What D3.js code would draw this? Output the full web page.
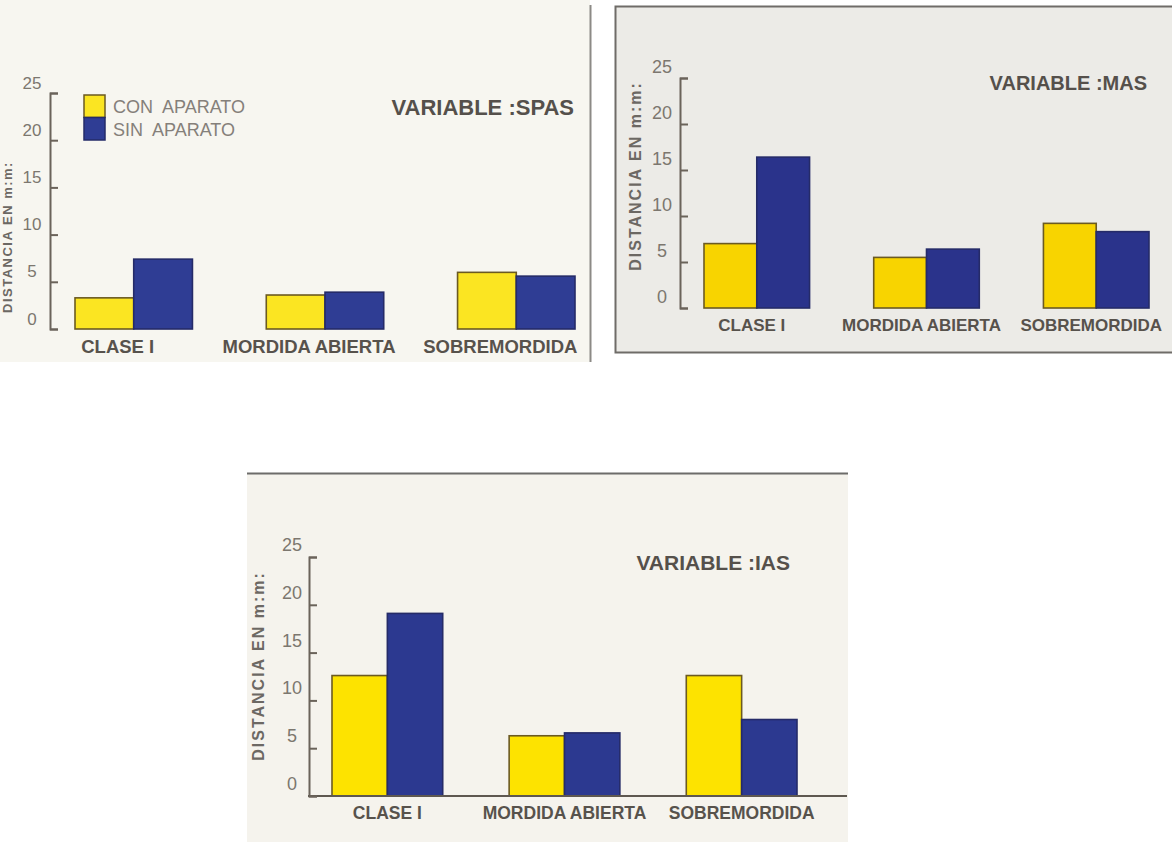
<!DOCTYPE html>
<html>
<head>
<meta charset="utf-8">
<script src="https://cdn.jsdelivr.net/npm/d3@7"></script>
<style>
  html, body { margin: 0; padding: 0; background: #ffffff; }
  svg { display: block; font-family: "Liberation Sans", Arial, sans-serif; }
</style>
</head>
<body>
<svg id="chart" width="1172" height="842"></svg>
<script>
// ---------- DATA ----------
const categories = ["CLASE I", "MORDIDA ABIERTA", "SOBREMORDIDA"];
const seriesNames = ["CON APARATO", "SIN APARATO"];
const yTicks = [0, 5, 10, 15, 20, 25];
const yTitle = "DISTANCIA EN m:m:";
const titles = ["VARIABLE :SPAS", "VARIABLE :MAS", "VARIABLE :IAS"];

const spasCon = [3.3, 3.6, 6.0];
const spasSin = [7.4, 3.9, 5.6];
const masCon = [7.0, 5.5, 9.2];
const masSin = [16.4, 6.4, 8.3];
const iasCon = [12.6, 6.3, 12.6];
const iasSin = [19.1, 6.6, 8.0];

// ---------- LAYOUT ----------
const svg = d3.select("#chart");

// panel backgrounds / frames
svg.append("rect").attr("x", 0).attr("y", 0).attr("width", 590).attr("height", 362).attr("fill", "#f7f6f0");
svg.append("line").attr("x1", 590.5).attr("x2", 590.5).attr("y1", 5).attr("y2", 362)
  .attr("stroke", "#8c8a86").attr("stroke-width", 2);

svg.append("rect").attr("x", 615).attr("y", 6).attr("width", 560).attr("height", 346).attr("fill", "#ecebe7");
svg.append("path").attr("d", "M1175,6.5 H615.5 V352.5 H1175")
  .attr("fill", "none").attr("stroke", "#6f6c68").attr("stroke-width", 2);

svg.append("rect").attr("x", 247).attr("y", 473).attr("width", 601).attr("height", 369).attr("fill", "#f5f3ed");
svg.append("line").attr("x1", 247).attr("x2", 848).attr("y1", 473.5).attr("y2", 473.5)
  .attr("stroke", "#6d6c6a").attr("stroke-width", 2);

const panels = [
  { title: titles[0], con: spasCon, sin: spasSin, x0: 75, x1: 575, pi: 0.386,
    yBottom: 329, yTop: 93, axisX: 50, labelDx: -16, labelSize: 18.5, tickFont: 17,
    tickLabelDy: -11, tickLabelX: -18, titleX: 574, titleY: 115, titleSize: 22,
    yTitleX: 12, yTitleY: 237, yTitleSize: 13, yTitleSpacing: 1.5, yellow: "#fbe522", blue: "#2f3d94", baseline: null, legend: true },
  { title: titles[1], con: masCon, sin: masSin, x0: 704, x1: 1149, pi: 0.378,
    yBottom: 308, yTop: 78, axisX: 680, labelDx: -5, labelSize: 17, tickFont: 18,
    tickLabelDy: -12, tickLabelX: -18, titleX: 1147, titleY: 90, titleSize: 20,
    yTitleX: 641, yTitleY: 176, yTitleSize: 16, yTitleSpacing: 2, yellow: "#f8d400", blue: "#2a338b", baseline: null, legend: false },
  { title: titles[2], con: iasCon, sin: iasSin, x0: 332, x1: 797, pi: 0.375,
    yBottom: 796, yTop: 557, axisX: 309, labelDx: 0, labelSize: 17.5, tickFont: 18,
    tickLabelDy: -13, tickLabelX: -17, titleX: 790, titleY: 570, titleSize: 21,
    yTitleX: 264, yTitleY: 666, yTitleSize: 16, yTitleSpacing: 2, yellow: "#fde300", blue: "#2c3990", baseline: 847, legend: false }
];

panels.forEach(p => {
  const g = svg.append("g");
  const x = d3.scaleBand().domain(categories).range([p.x0, p.x1]).paddingInner(p.pi).paddingOuter(0);
  const xs = d3.scaleBand().domain(seriesNames).range([0, x.bandwidth()]).padding(0);
  const y = d3.scaleLinear().domain([0, 25]).range([p.yBottom, p.yTop]);
  const color = d3.scaleOrdinal().domain(seriesNames).range([p.yellow, p.blue]);
  const stroke = d3.scaleOrdinal().domain(seriesNames).range(["#6b5a22", "#252b68"]);

  // bars
  const rows = categories.map((c, i) => ({ cat: c, vals: [
    { s: seriesNames[0], v: p.con[i] }, { s: seriesNames[1], v: p.sin[i] } ] }));
  const grp = g.selectAll("g.grp").data(rows).join("g")
    .attr("transform", d => `translate(${x(d.cat)},0)`);
  grp.selectAll("rect").data(d => d.vals).join("rect")
    .attr("x", d => xs(d.s))
    .attr("y", d => y(d.v))
    .attr("width", xs.bandwidth())
    .attr("height", d => y(0) - y(d.v))
    .attr("fill", d => color(d.s))
    .attr("stroke", d => stroke(d.s))
    .attr("stroke-width", 1.6);

  // optional full baseline
  if (p.baseline) {
    g.append("line").attr("x1", p.axisX - 1).attr("x2", p.baseline)
      .attr("y1", y(0)).attr("y2", y(0))
      .attr("stroke", "#5e5850").attr("stroke-width", 2);
  }

  // y axis (bracket style, ticks pointing right)
  const yAxis = d3.axisLeft(y).tickValues(yTicks).tickSizeInner(-8).tickSizeOuter(-8).tickPadding(0);
  const ya = g.append("g").attr("transform", `translate(${p.axisX},0)`).call(yAxis)
    .attr("font-size", p.tickFont).attr("font-family", "'Liberation Sans', Arial, sans-serif");
  ya.select(".domain").attr("stroke", "#6a635a").attr("stroke-width", 2);
  ya.selectAll(".tick line").attr("stroke", "#6a635a").attr("stroke-width", 2);
  ya.selectAll(".tick text")
    .attr("x", p.tickLabelX).attr("y", p.tickLabelDy).attr("dy", "0.36em")
    .attr("text-anchor", "middle")
    .attr("fill", "#7c776f");

  // x axis labels
  const xAxis = d3.axisBottom(x).tickSize(0).tickPadding(11);
  const xa = g.append("g").attr("transform", `translate(0,${y(0)})`).call(xAxis)
    .attr("font-size", p.labelSize).attr("font-family", "'Liberation Sans', Arial, sans-serif");
  xa.select(".domain").remove();
  xa.selectAll(".tick text")
    .attr("dx", p.labelDx)
    .attr("fill", "#57524c")
    .style("font-weight", "bold");

  // title
  g.append("text").attr("x", p.titleX).attr("y", p.titleY)
    .attr("text-anchor", "end")
    .attr("fill", "#55504b")
    .style("font-size", p.titleSize + "px")
    .style("font-weight", "bold")
    .text(p.title);

  // y title (rotated)
  g.append("text")
    .attr("transform", `translate(${p.yTitleX},${p.yTitleY}) rotate(-90)`)
    .attr("text-anchor", "middle")
    .attr("fill", "#6c6863")
    .style("font-size", p.yTitleSize + "px")
    .style("font-weight", "bold")
    .style("letter-spacing", p.yTitleSpacing + "px")
    .text(yTitle);

  // legend
  if (p.legend) {
    const lg = g.append("g");
    const ly = d3.scaleBand().domain(seriesNames).range([95, 140]).padding(0);
    lg.selectAll("rect").data(seriesNames).join("rect")
      .attr("x", 84).attr("y", d => ly(d))
      .attr("width", 21).attr("height", ly.bandwidth())
      .attr("fill", d => color(d)).attr("stroke", d => stroke(d)).attr("stroke-width", 1.5);
    lg.selectAll("text").data(seriesNames).join("text")
      .attr("x", 113).attr("y", d => ly(d) + ly.bandwidth() / 2 + 7)
      .attr("fill", "#85807a")
      .style("font-size", "18px")
      .style("white-space", "pre")
      .attr("xml:space", "preserve")
      .text(d => d.replace(" ", "  "));
  }
});
</script>
</body>
</html>
